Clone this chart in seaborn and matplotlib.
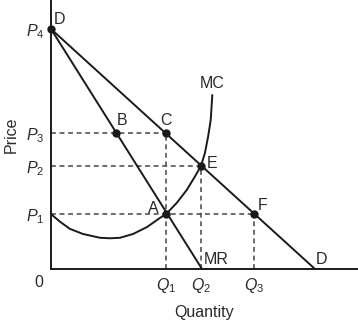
import matplotlib
matplotlib.use("Agg")
import matplotlib.pyplot as plt
import seaborn as sns
import pandas as pd

# ---- data (quantity units, price units) ----
demand_q = [0.0, 10.0]
demand_p = [10.0, 0.0]
mr_q = [0.0, 5.72]
mr_p = [10.0, 0.0]
mc_q = [0.0, 0.34, 0.72, 1.21, 1.86, 2.23, 2.61, 3.11, 3.64, 4.13, 4.36,
        4.76, 5.14, 5.45, 5.68, 5.83, 5.95, 6.05, 6.11]
mc_p = [2.29, 1.97, 1.67, 1.46, 1.30, 1.28, 1.30, 1.46, 1.75, 2.13, 2.29,
        2.75, 3.29, 3.85, 4.29, 4.83, 5.51, 6.21, 7.25]
point_names = ["D", "B", "C", "E", "A", "F"]
point_q = [0.0, 2.48, 4.36, 5.68, 4.36, 7.69]
point_p = [10.0, 5.67, 5.67, 4.29, 2.29, 2.29]
price_levels = [2.29, 4.29, 5.67, 10.0]
price_labels = ["$\\mathit{P_1}$", "$\\mathit{P_2}$", "$\\mathit{P_3}$", "$\\mathit{P_4}$"]
qty_levels = [4.36, 5.68, 7.69]
qty_labels = ["$\\mathit{Q_1}$", "$\\mathit{Q_2}$", "$\\mathit{Q_3}$"]

sns.set_style("white")
plt.rcParams["font.family"] = ["Liberation Sans", "DejaVu Sans"]
plt.rcParams["mathtext.fontset"] = "custom"
plt.rcParams["mathtext.it"] = "Liberation Sans:italic"
plt.rcParams["mathtext.rm"] = "Liberation Sans"

ink = "#1a1a1a"
txt = "#2a2a2a"
fs = 11.5

fig = plt.figure(figsize=(3.58, 3.23), dpi=100)
ax = fig.add_axes([51 / 358, 54 / 323, 307 / 358, 269 / 323])

# dashed guide lines
dash_kw = dict(color="#444444", lw=1.1, linestyle=(0, (3.2, 2.4)), zorder=1)
ax.plot([0, point_q[2]], [point_p[2], point_p[2]], **dash_kw)
ax.plot([0, point_q[3]], [point_p[3], point_p[3]], **dash_kw)
ax.plot([0, point_q[5]], [point_p[5], point_p[5]], **dash_kw)
ax.plot([point_q[2], point_q[2]], [0, point_p[2]], **dash_kw)
ax.plot([point_q[3], point_q[3]], [0, point_p[3]], **dash_kw)
ax.plot([point_q[5], point_q[5]], [0, point_p[5]], **dash_kw)

line_kw = dict(color=ink, lw=1.4, zorder=2)
sns.lineplot(x=demand_q, y=demand_p, ax=ax, sort=False, **line_kw)
sns.lineplot(x=mr_q, y=mr_p, ax=ax, sort=False, **line_kw)
sns.lineplot(x=mc_q, y=mc_p, ax=ax, sort=False, **line_kw)

pts = pd.DataFrame({"q": point_q, "p": point_p, "name": point_names})
sns.scatterplot(data=pts, x="q", y="p", ax=ax, color=ink, s=36,
                edgecolor=ink, linewidth=0, zorder=4, clip_on=False)

# point labels (offsets in points)
offsets = {"D": (6, 6.5), "B": (4, 9), "C": (0, 9), "E": (8, 2), "A": (-9, 4), "F": (6, 6)}
for n, q, p in zip(point_names, point_q, point_p):
    dx, dy = offsets[n]
    ax.annotate(n, (q, p), xytext=(dx, dy), textcoords="offset points",
                ha="center", va="center", fontsize=fs, color=txt)

ax.annotate("MC", (mc_q[-1], mc_p[-1]), xytext=(0, 8), textcoords="offset points",
            ha="center", va="center", fontsize=fs, color=txt)
ax.annotate("MR", (mr_q[-1], 0), xytext=(10, 7), textcoords="offset points",
            ha="center", va="center", fontsize=fs, color=txt)
ax.annotate("D", (demand_q[-1], 0), xytext=(4.5, 7), textcoords="offset points",
            ha="center", va="center", fontsize=fs, color=txt)
ax.annotate("0", (0, 0), xytext=(-8.5, -10), textcoords="offset points",
            ha="center", va="center", fontsize=fs, color=txt, annotation_clip=False)

ax.set_xlim(0, 307 / 26.4)
ax.set_ylim(0, 269 / 24)
ax.set_xticks(qty_levels)
ax.set_xticklabels(qty_labels, fontsize=fs, color=txt)
ax.set_yticks(price_levels)
ax.set_yticklabels(price_labels, fontsize=fs, color=txt)
ax.tick_params(axis="x", length=0, pad=5)
ax.tick_params(axis="y", length=0, pad=5)
ax.set_xlabel("Quantity", fontsize=fs, color=txt, labelpad=7)
ax.set_ylabel("Price", fontsize=fs, color=txt, labelpad=5)

for s in ["top", "right"]:
    ax.spines[s].set_visible(False)
for s in ["left", "bottom"]:
    ax.spines[s].set_color(ink)
    ax.spines[s].set_linewidth(1.4)

fig.savefig("out.png", dpi=100)
